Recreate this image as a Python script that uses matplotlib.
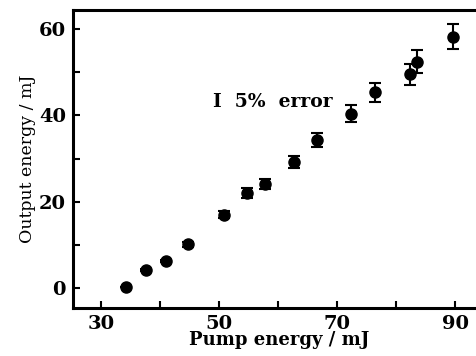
import numpy as np
import matplotlib.pyplot as plt

# pump energy (mJ) and output energy (mJ)
pump = np.array([34.2, 37.6, 41.0, 44.8, 50.8, 54.7, 57.8, 62.8, 66.6,
                 72.4, 76.4, 82.4, 83.5, 89.7])
output = np.array([0.3, 4.2, 6.3, 10.1, 17.0, 22.0, 24.1, 29.2, 34.3,
                   40.4, 45.3, 49.5, 52.4, 58.2])
err = 0.05 * output  # 5% error bars

xticks = [30, 50, 70, 90]
yticks = [0, 20, 40, 60]

plt.rcParams['font.family'] = 'DejaVu Serif'

fig = plt.figure(figsize=(4.76, 3.56), dpi=100)
ax = fig.add_axes([0.153, 0.135, 0.865, 0.837])

ax.errorbar(pump, output, yerr=err, fmt='o', color='black', ms=8,
            capsize=4.5, elinewidth=1.5, capthick=1.5)

ax.set_xlim(25.25, 95)
ax.set_ylim(-4.6, 64.4)
ax.set_xticks(xticks)
ax.set_xticks([40, 60, 80], minor=True)
ax.set_yticks(yticks)
ax.set_yticks([10, 30, 50], minor=True)
ax.tick_params(which='both', direction='in', width=1.5, length=5,
               labelsize=14, pad=5)
for lab in ax.get_xticklabels() + ax.get_yticklabels():
    lab.set_fontweight('bold')
for s in ax.spines.values():
    s.set_linewidth(2.2)

ax.text(49.0, 43.2, 'I  5%  error', fontsize=13.5, fontweight='bold',
        va='center', ha='left')

ax.set_xlabel('Pump energy / mJ', fontsize=13, fontweight='bold', labelpad=-1)
ax.set_ylabel('Output energy / mJ', fontsize=12.5, labelpad=2)

fig.savefig('out.png', dpi=100)
